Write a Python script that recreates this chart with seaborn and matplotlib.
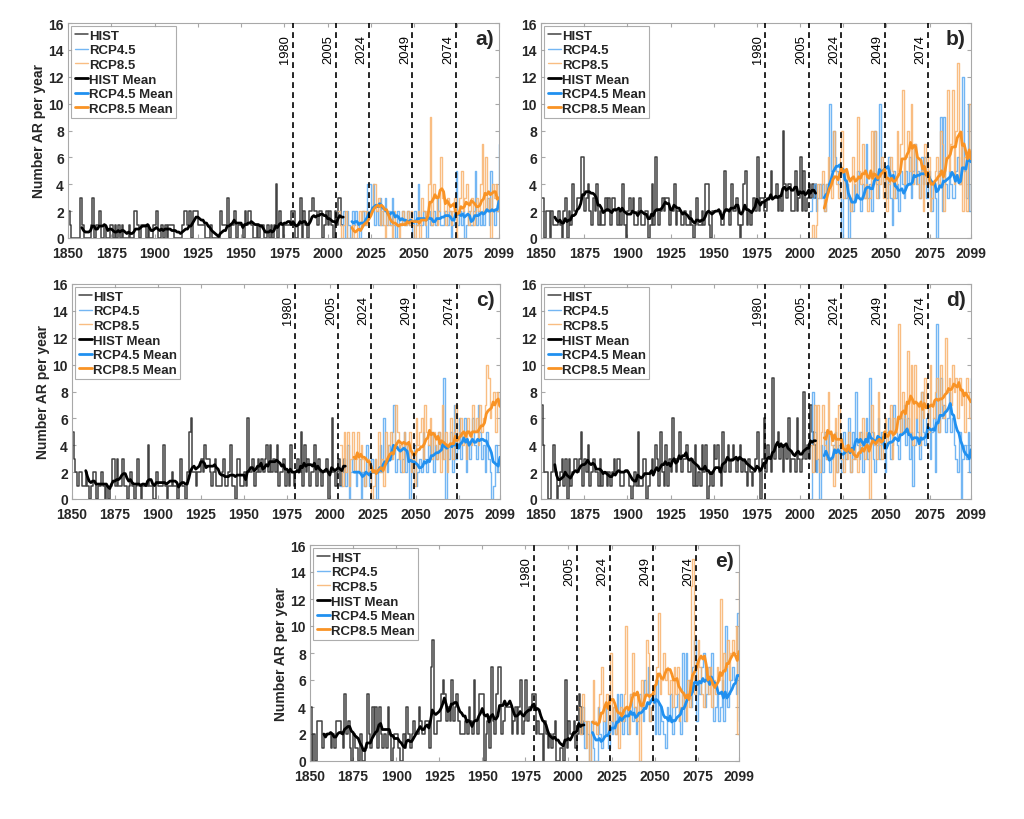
import numpy as np
import pandas as pd
import matplotlib
matplotlib.use("Agg")
import matplotlib.pyplot as plt
import seaborn as sns

# ---------------- data ----------------
HIST_YEARS = np.arange(1850, 2010)
RCP_YEARS = np.arange(2006, 2100)
XTICKS = [1850, 1875, 1900, 1925, 1950, 1975, 2000, 2025, 2050, 2075, 2099]
YTICKS = [0, 2, 4, 6, 8, 10, 12, 14, 16]
MARK_YEARS = [1980, 2005, 2024, 2049, 2074]
PANEL_LABELS = ["a)", "b)", "c)", "d)", "e)"]
SERIES_NAMES = ["HIST", "RCP4.5", "RCP8.5", "HIST Mean", "RCP4.5 Mean", "RCP8.5 Mean"]
MEAN_WINDOW = 9

HIST_A = [2,1,0,0,0,0,0,3,1,0, 0,0,0,1,3,0,1,1,2,0, 0,1,0,0,1,1,0,1,0,1,
          0,1,0,0,0,1,0,0,2,2, 1,0,1,1,1,0,1,0,0,1, 1,2,0,0,1,0,1,0,1,1,
          1,0,0,0,0,0,1,2,2,1, 2,0,2,2,2,1,1,1,1,0, 0,0,1,0,0,0,0,0,2,1,
          1,1,3,0,1,1,2,0,1,1, 1,0,2,1,2,2,1,0,0,1, 0,1,1,0,0,1,0,1,0,1,
          4,0,2,1,0,1,1,1,1,2, 2,0,0,1,3,0,2,1,0,2, 2,3,2,2,1,2,2,0,1,2,
          1,2,1,0,2,1,3,3,1,1]
R45_A = [2,1,1,2,0,2,1,0,2,1, 2,1,0,1,2,1,2,4,4,2, 4,1,2,1,3,1,2,3,1,2,
         1,3,1,0,2,1,1,2,1,1, 2,1,1,0,2,1,4,1,1,2, 1,0,2,1,1,2,1,3,2,1,
         1,2,2,1,2,0,1,2,5,1, 2,1,2,0,1,2,1,1,2,5, 1,2,1,2,1,2,3,1,5,2,
         1,2,2,7]
R85_A = [2,1,0,1,2,0,0,0,1,0, 0,1,2,1,2,2,1,2,2,2, 4,4,2,3,1,2,1,0,2,1,
         1,0,2,1,1,0,1,2,1,1, 2,1,2,1,0,1,2,0,3,2, 1,2,4,9,1,4,3,1,2,6,
         3,2,1,3,2,1,2,3,0,2, 3,5,2,3,4,1,2,3,1,2, 3,2,4,7,2,6,2,3,0,4,
         3,4,2,3]

HIST_B = [3,3,0,2,2,0,2,1,1,1, 2,1,0,2,3,0,2,1,4,2, 2,3,3,6,6,2,3,4,2,1,
          3,2,4,1,2,1,1,3,2,3, 1,3,3,2,1,2,1,4,1,0, 2,3,2,3,1,1,2,3,1,1,
          2,2,0,1,4,1,6,2,1,2, 3,2,3,3,1,2,2,4,1,2, 2,1,1,2,1,1,2,1,0,1,
          3,1,1,2,1,4,4,1,0,2, 2,2,2,2,1,1,5,2,2,1, 4,2,2,3,1,0,1,4,5,1,
          2,1,2,3,2,6,2,3,3,2, 2,3,3,5,3,3,4,2,3,2, 8,4,3,4,4,2,2,5,2,3,
          6,2,5,2,3,4,3,4,3,4]
R45_B = [2,3,4,2,3,4,3,4,2,4, 4,10,5,8,6,5,4,3,0,5, 3,4,0,3,2,4,3,5,3,2,
         4,3,7,3,4,2,5,8,4,3, 10,5,4,5,3,6,3,1,5,3, 4,2,5,4,3,5,4,6,3,5,
         7,4,5,3,6,4,6,3,5,4, 2,4,3,0,5,9,2,9,4,3, 5,4,3,3,5,6,4,5,12,5,
         3,10,2,4]
R85_B = [0,1,0,1,4,3,4,5,2,4, 6,4,3,8,5,4,3,6,8,3, 5,4,3,2,6,4,3,9,5,4,
         7,3,4,2,3,8,4,8,3,5, 4,6,3,5,2,4,6,5,3,4, 8,5,7,11,4,6,8,5,10,4,
         7,6,4,3,5,2,7,4,6,2, 3,4,5,6,4,8,7,2,6,11, 5,7,11,4,8,13,4,8,2,6,
         2,6,10,2]

HIST_C = [5,3,2,1,2,2,1,1,2,1, 0,1,2,2,0,1,1,2,1,0, 1,0,1,3,3,1,3,1,1,3,
          1,1,0,1,2,1,0,1,3,1, 0,1,1,1,4,1,1,0,0,2, 1,1,1,4,1,0,1,1,2,1,
          1,0,1,3,1,1,0,2,5,6, 2,2,1,2,2,3,2,4,3,3, 2,1,2,3,1,1,1,2,3,1,
          1,2,4,1,1,0,3,3,1,1, 2,1,6,2,2,3,1,2,3,2, 3,2,3,4,2,4,2,3,2,4,
          1,2,2,3,1,2,1,4,2,1, 2,3,2,5,1,4,2,3,1,2, 2,4,1,3,2,1,2,2,3,0,
          2,6,2,1,2,3,1,2,3,2]
R45_C = [1,2,3,1,4,0,2,3,2,1, 2,3,0,2,1,4,2,1,3,2, 3,0,2,4,2,6,3,2,4,3,
         5,7,2,3,4,2,3,5,2,4, 0,3,2,4,1,2,3,2,5,3, 2,4,3,5,2,4,3,5,4,3,
         9,0,4,3,5,2,7,3,4,6, 3,5,6,2,4,3,5,6,4,3, 7,5,3,4,2,5,3,2,0,1,
         4,2,3,8]
R85_C = [4,1,5,2,5,1,3,5,2,3, 5,2,4,3,1,2,3,2,0,1, 3,2,5,2,3,1,5,3,4,5,
         3,4,7,5,3,4,2,5,4,3, 5,2,3,1,6,4,5,6,3,7, 5,4,6,3,5,4,3,5,2,7,
         3,5,2,4,6,3,5,7,4,5, 6,4,5,3,6,5,4,7,5,6, 4,7,5,6,7,10,9,6,7,8,
         5,8,7,2]

HIST_D = [7,4,2,2,0,0,2,4,2,0, 1,2,3,1,3,0,3,1,2,3, 3,2,3,5,1,3,2,4,1,2,
          3,2,2,1,3,1,2,2,1,2, 1,2,3,2,3,3,1,1,2,2, 2,1,0,1,2,1,5,1,1,3,
          3,0,1,2,3,2,4,3,1,5, 2,1,4,1,3,2,6,3,2,3, 5,2,3,3,4,2,2,3,1,4,
          1,2,1,4,2,4,0,1,2,1, 4,3,4,2,1,5,2,3,4,2, 3,4,3,2,3,4,2,3,2,1,
          3,2,1,2,3,5,2,0,3,6, 2,4,3,2,9,3,4,5,3,4, 2,4,3,6,2,3,3,2,6,3,
          2,3,8,3,4,3,7,5,4,2]
R45_D = [0,8,5,2,3,0,4,2,5,3, 5,2,3,4,5,2,4,3,2,5, 3,4,6,2,5,3,8,4,3,5,
         2,4,6,3,9,5,3,2,4,6, 3,5,4,2,5,6,3,4,7,5, 4,3,6,5,7,4,6,3,5,1,
         4,6,5,3,8,5,4,6,7,3, 5,6,2,13,5,9,6,7,5,6, 8,5,6,4,3,2,5,0,3,4,
         3,5,2,9]
R85_D = [4,2,7,3,7,2,5,7,4,3, 8,5,4,1,6,2,7,4,3,2, 4,3,5,2,3,4,3,2,5,4,
         6,3,5,4,0,7,5,4,3,8, 4,3,5,6,4,5,7,3,6,5, 6,13,5,8,6,5,11,5,10,4,
         10,6,7,4,8,6,9,7,5,10, 7,6,8,9,5,10,7,6,12,8, 9,7,10,8,9,6,9,7,8,5,
         9,8,6,7]

HIST_E = [4,0,2,0,3,3,3,1,2,2, 2,2,1,2,1,3,3,3,2,1, 5,2,3,1,0,2,1,1,0,2,
          0,0,1,5,2,1,4,2,4,1, 4,2,1,2,1,4,2,0,1,2, 2,1,0,0,2,1,4,2,1,2,
          3,2,2,4,3,2,2,3,3,1, 7,9,2,2,3,3,5,6,5,3, 4,3,6,3,4,5,3,2,2,2,
          3,2,4,3,2,6,3,2,5,5, 5,0,2,3,1,7,3,2,5,7, 7,2,3,4,4,4,4,2,3,4,
          2,4,6,2,3,6,3,4,4,5, 5,2,3,2,2,0,3,2,1,2, 1,2,3,0,0,1,1,0,6,1,
          3,2,2,3,1,2,5,4,2,3]
R45_E = [3,2,4,1,3,2,0,3,1,0, 0,4,2,1,3,2,4,1,3,2, 4,2,5,3,5,2,3,4,2,4,
         5,3,4,2,3,5,4,3,6,5, 7,3,4,5,2,6,2,4,3,2, 1,4,3,5,2,3,4,5,3,2,
         8,3,8,5,6,4,7,9,3,6, 5,7,8,4,5,7,6,8,3,4, 5,3,4,6,3,10,4,5,6,7,
         6,5,11,3]
R85_E = [4,2,5,3,1,3,0,2,6,3, 2,4,5,7,3,4,5,2,8,3, 4,2,3,1,4,3,5,10,4,2,
         5,8,4,3,5,0,6,4,5,9, 8,3,4,5,6,7,11,5,6,8, 6,7,5,6,4,7,5,7,3,4,
         5,4,3,6,4,13,15,5,6,9, 7,5,4,6,7,5,7,4,6,5, 7,6,12,5,8,7,9,6,8,9,
         8,10,2,14]

PANELS = [(HIST_A, R45_A, R85_A), (HIST_B, R45_B, R85_B), (HIST_C, R45_C, R85_C),
          (HIST_D, R45_D, R85_D), (HIST_E, R45_E, R85_E)]

# ---------------- style ----------------
sns.set_theme(style="white")
plt.rcParams["font.family"] = ["Liberation Sans", "DejaVu Sans"]
plt.rcParams["axes.linewidth"] = 0.8

C_HIST = "#2e2e2e"
C_45 = "#5aaaf2"
C_85 = "#f8b26c"
C_HIST_M = "#000000"
C_45_M = "#2090f0"
C_85_M = "#f99325"
SPINE = "#a8a8a8"

fig = plt.figure(figsize=(10.24, 8.2), dpi=100)
positions = [
    [68 / 1024, 1 - 239 / 820, 431 / 1024, 215 / 820],
    [541 / 1024, 1 - 239 / 820, 430 / 1024, 215 / 820],
    [72 / 1024, 1 - 500 / 820, 428 / 1024, 215 / 820],
    [541 / 1024, 1 - 500 / 820, 430 / 1024, 215 / 820],
    [310 / 1024, 1 - 762 / 820, 429 / 1024, 216 / 820],
]

for i, (hist, r45, r85) in enumerate(PANELS):
    ax = fig.add_axes(positions[i])
    h = pd.DataFrame({"year": HIST_YEARS, "n": hist})
    a = pd.DataFrame({"year": RCP_YEARS, "n": r45})
    b = pd.DataFrame({"year": RCP_YEARS, "n": r85})
    h["m"] = h["n"].rolling(MEAN_WINDOW).mean()
    a["m"] = a["n"].rolling(MEAN_WINDOW).mean()
    b["m"] = b["n"].rolling(MEAN_WINDOW).mean()

    sns.lineplot(data=h, x="year", y="n", ax=ax, color=C_HIST, lw=1.1,
                 drawstyle="steps-post", estimator=None, label=SERIES_NAMES[0], alpha=0.9)
    sns.lineplot(data=a, x="year", y="n", ax=ax, color=C_45, lw=1.0,
                 drawstyle="steps-post", estimator=None, label=SERIES_NAMES[1], alpha=0.85)
    sns.lineplot(data=b, x="year", y="n", ax=ax, color=C_85, lw=1.0,
                 drawstyle="steps-post", estimator=None, label=SERIES_NAMES[2], alpha=0.85)
    sns.lineplot(data=h.dropna(), x="year", y="m", ax=ax, color=C_HIST_M, lw=2.0,
                 estimator=None, label=SERIES_NAMES[3])
    sns.lineplot(data=a.dropna(), x="year", y="m", ax=ax, color=C_45_M, lw=2.0,
                 estimator=None, label=SERIES_NAMES[4])
    sns.lineplot(data=b.dropna(), x="year", y="m", ax=ax, color=C_85_M, lw=2.0,
                 estimator=None, label=SERIES_NAMES[5])

    for yr in MARK_YEARS:
        ax.axvline(yr, color="black", lw=1.2, ls=(0, (3.5, 2.5)), zorder=5)
        ax.text(yr - 0.9, 15.15, str(yr), rotation=90, ha="right", va="top",
                fontsize=9.3, color="black", zorder=6)

    ax.set_xlim(1850, 2099)
    ax.set_ylim(0, 16)
    ax.set_xticks(XTICKS)
    ax.set_yticks(YTICKS)
    ax.set_xticklabels([str(t) for t in XTICKS], fontsize=10, fontweight="bold")
    ax.set_yticklabels([str(t) for t in YTICKS], fontsize=10, fontweight="bold")
    ax.tick_params(direction="in", length=3, width=0.8, color=SPINE,
                   top=True, right=True, bottom=True, left=True)
    ax.tick_params(axis="x", pad=6)
    ax.tick_params(axis="y", pad=3)
    for s in ax.spines.values():
        s.set_color(SPINE)
        s.set_linewidth(0.8)
    ax.set_xlabel("")
    if i in (0, 2, 4):
        ax.set_ylabel("Number AR per year", fontsize=10, fontweight="bold", labelpad=2)
    else:
        ax.set_ylabel("")

    ax.text(0.988, 0.93, PANEL_LABELS[i], transform=ax.transAxes, ha="right", va="center",
            fontsize=15, fontweight="bold", zorder=7)

    leg = ax.legend(loc="upper left", frameon=True, fancybox=False,
                    handlelength=1.0, handletextpad=0.1, labelspacing=0.18,
                    borderpad=0.25, borderaxespad=0.25, prop={"weight": "bold", "size": 9.5})
    leg.get_frame().set_edgecolor("#999999")
    leg.get_frame().set_linewidth(0.8)
    leg.set_zorder(8)

fig.savefig("out.png", dpi=100)
